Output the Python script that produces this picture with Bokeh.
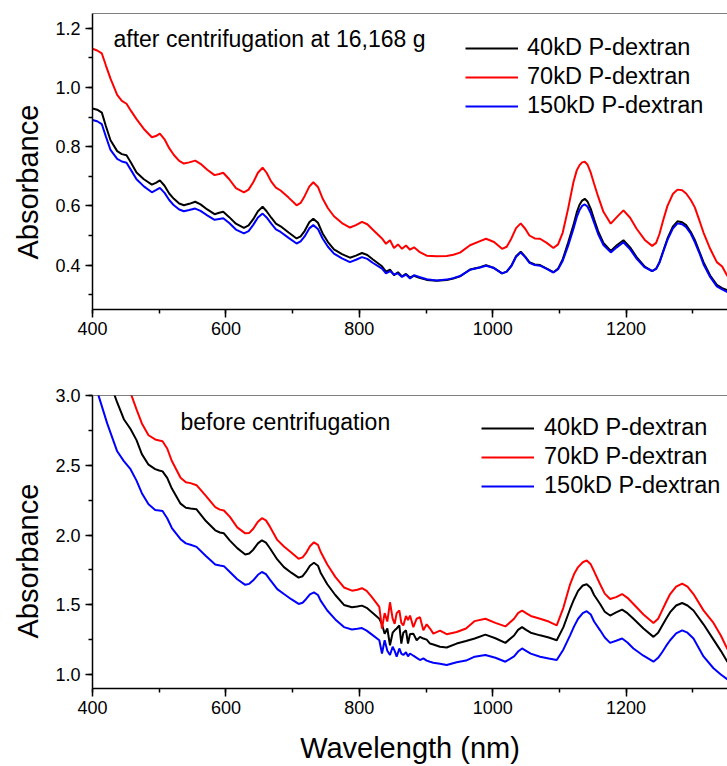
from bokeh.plotting import figure
from bokeh.layouts import column
from bokeh.models import (Range1d, Label, Span, Legend, LegendItem, Title,
                          SingleIntervalTicker, PrintfTickFormatter)
from bokeh.embed import file_html
from bokeh.resources import INLINE

FONT = "Liberation Sans"

# ---------------- data: after centrifugation ----------------
wl_top = [400, 407, 414, 420, 427, 437, 444, 451, 458, 466,
          477, 489, 495, 501, 508, 515, 522, 530, 537, 545,
          554, 562, 572, 583, 590, 596, 605, 615, 627, 634,
          641, 648, 655, 661, 668, 675, 682, 694, 706, 712,
          718, 725, 731, 738, 745, 753, 762, 774, 786, 795,
          804, 812, 820, 834, 840, 846, 852, 858, 864, 870,
          876, 882, 890, 901, 916, 931, 941, 951, 966, 981,
          990, 1002, 1014, 1021, 1028, 1035, 1042, 1049, 1055, 1063,
          1071, 1081, 1091, 1098, 1105, 1113, 1121, 1126, 1130, 1134,
          1138, 1142, 1147, 1152, 1158, 1166, 1177, 1186, 1196, 1206,
          1216, 1228, 1239, 1245, 1250, 1256, 1262, 1270, 1277, 1284,
          1290, 1297, 1303, 1310, 1316, 1326, 1336, 1344, 1352]

top_40kd = [0.929, 0.925, 0.915, 0.870, 0.822, 0.785, 0.775, 0.771, 0.745, 0.713,
            0.690, 0.672, 0.678, 0.686, 0.668, 0.642, 0.624, 0.608, 0.602, 0.607,
            0.614, 0.605, 0.588, 0.572, 0.577, 0.580, 0.562, 0.540, 0.526, 0.534,
            0.555, 0.582, 0.597, 0.582, 0.560, 0.540, 0.531, 0.510, 0.490, 0.497,
            0.515, 0.545, 0.557, 0.543, 0.507, 0.478, 0.453, 0.437, 0.425, 0.432,
            0.441, 0.434, 0.420, 0.396, 0.378, 0.385, 0.366, 0.376, 0.362, 0.370,
            0.358, 0.364, 0.357, 0.350, 0.347, 0.350, 0.355, 0.362, 0.385, 0.393,
            0.400, 0.390, 0.372, 0.378, 0.398, 0.430, 0.445, 0.428, 0.410, 0.402,
            0.400, 0.388, 0.376, 0.388, 0.420, 0.475, 0.535, 0.578, 0.603, 0.618,
            0.624, 0.615, 0.590, 0.555, 0.515, 0.475, 0.448, 0.467, 0.484, 0.460,
            0.426, 0.395, 0.380, 0.388, 0.410, 0.450, 0.490, 0.530, 0.548, 0.545,
            0.535, 0.512, 0.485, 0.445, 0.410, 0.365, 0.333, 0.322, 0.315]

top_70kd = [1.131, 1.125, 1.115, 1.075, 1.030, 0.975, 0.955, 0.945, 0.920, 0.893,
            0.860, 0.832, 0.836, 0.844, 0.825, 0.795, 0.772, 0.752, 0.743, 0.747,
            0.753, 0.742, 0.722, 0.704, 0.708, 0.712, 0.690, 0.660, 0.646, 0.655,
            0.680, 0.712, 0.729, 0.712, 0.682, 0.662, 0.652, 0.628, 0.602, 0.610,
            0.633, 0.665, 0.680, 0.664, 0.625, 0.592, 0.565, 0.542, 0.527, 0.535,
            0.546, 0.538, 0.520, 0.490, 0.472, 0.484, 0.458, 0.470, 0.455, 0.466,
            0.452, 0.460, 0.445, 0.432, 0.430, 0.431, 0.435, 0.442, 0.467, 0.481,
            0.489, 0.478, 0.455, 0.462, 0.490, 0.525, 0.541, 0.522, 0.500, 0.490,
            0.489, 0.475, 0.458, 0.470, 0.510, 0.590, 0.680, 0.720, 0.737, 0.747,
            0.749, 0.740, 0.712, 0.675, 0.632, 0.580, 0.540, 0.562, 0.585, 0.560,
            0.522, 0.485, 0.465, 0.475, 0.505, 0.555, 0.600, 0.640, 0.655, 0.653,
            0.642, 0.620, 0.595, 0.550, 0.510, 0.455, 0.410, 0.395, 0.362]

top_150kd = [0.890, 0.886, 0.876, 0.835, 0.789, 0.759, 0.750, 0.746, 0.720, 0.690,
             0.666, 0.646, 0.653, 0.661, 0.644, 0.620, 0.602, 0.588, 0.582, 0.586,
             0.591, 0.583, 0.568, 0.553, 0.556, 0.558, 0.542, 0.520, 0.507, 0.515,
             0.536, 0.561, 0.574, 0.561, 0.540, 0.521, 0.512, 0.492, 0.473, 0.480,
             0.497, 0.524, 0.535, 0.522, 0.490, 0.462, 0.439, 0.423, 0.410, 0.418,
             0.427, 0.421, 0.408, 0.388, 0.372, 0.380, 0.368, 0.372, 0.360, 0.368,
             0.355, 0.366, 0.360, 0.352, 0.348, 0.351, 0.356, 0.363, 0.384, 0.392,
             0.398, 0.390, 0.372, 0.378, 0.397, 0.428, 0.443, 0.426, 0.408, 0.400,
             0.398, 0.387, 0.375, 0.386, 0.415, 0.465, 0.522, 0.562, 0.585, 0.600,
             0.605, 0.598, 0.575, 0.543, 0.505, 0.468, 0.443, 0.460, 0.477, 0.453,
             0.421, 0.392, 0.380, 0.387, 0.408, 0.447, 0.485, 0.523, 0.541, 0.538,
             0.528, 0.506, 0.478, 0.440, 0.403, 0.360, 0.328, 0.318, 0.309]

# ---------------- data: before centrifugation ----------------
wl_bot = [400, 410, 422, 437, 447, 457, 466, 474, 484, 494,
          500, 505, 512, 519, 532, 540, 547, 556, 570, 584,
          591, 597, 606, 617, 629, 635, 641, 648, 654, 660,
          666, 677, 687, 698, 709, 715, 720, 726, 732, 738,
          742, 752, 764, 777, 789, 797, 804, 811, 818, 830,
          834, 838, 842, 846, 850, 853, 856, 860, 863, 866,
          870, 873, 876, 881, 886, 891, 896, 901, 906, 911,
          921, 931, 946, 960, 973, 989, 1004, 1019, 1032, 1038,
          1044, 1050, 1057, 1071, 1084, 1096, 1106, 1116, 1122, 1128,
          1135, 1141, 1147, 1152, 1161, 1168, 1176, 1185, 1194, 1202,
          1211, 1226, 1241, 1248, 1254, 1260, 1266, 1275, 1284, 1292,
          1301, 1316, 1331, 1342, 1352]

bot_40kd = [3.46, 3.32, 3.15, 2.95, 2.83, 2.76, 2.68, 2.58, 2.504, 2.472,
            2.462, 2.456, 2.410, 2.333, 2.225, 2.195, 2.190, 2.184, 2.100, 2.034,
            2.018, 2.012, 1.960, 1.906, 1.861, 1.868, 1.895, 1.940, 1.962, 1.945,
            1.905, 1.825, 1.770, 1.730, 1.695, 1.705, 1.735, 1.780, 1.801, 1.780,
            1.730, 1.647, 1.570, 1.499, 1.482, 1.488, 1.494, 1.478, 1.450, 1.400,
            1.360, 1.293, 1.330, 1.210, 1.300, 1.317, 1.330, 1.352, 1.222, 1.300,
            1.317, 1.222, 1.290, 1.293, 1.246, 1.270, 1.258, 1.250, 1.222, 1.215,
            1.199, 1.194, 1.222, 1.240, 1.258, 1.286, 1.260, 1.227, 1.280, 1.320,
            1.340, 1.320, 1.300, 1.281, 1.265, 1.246, 1.340, 1.470, 1.540, 1.600,
            1.638, 1.647, 1.620, 1.570, 1.506, 1.450, 1.423, 1.445, 1.465, 1.440,
            1.400, 1.330, 1.270, 1.300, 1.350, 1.400, 1.447, 1.495, 1.513, 1.495,
            1.459, 1.360, 1.250, 1.170, 1.090]

bot_70kd = [3.70, 3.55, 3.38, 3.18, 3.08, 3.02, 2.90, 2.80, 2.715, 2.685,
            2.678, 2.672, 2.620, 2.530, 2.410, 2.378, 2.372, 2.357, 2.280, 2.200,
            2.182, 2.176, 2.130, 2.055, 2.012, 2.015, 2.045, 2.095, 2.121, 2.105,
            2.060, 1.965, 1.918, 1.875, 1.830, 1.840, 1.870, 1.920, 1.948, 1.930,
            1.880, 1.789, 1.700, 1.624, 1.601, 1.608, 1.619, 1.600, 1.560, 1.485,
            1.330, 1.440, 1.380, 1.518, 1.400, 1.364, 1.440, 1.459, 1.370, 1.352,
            1.420, 1.390, 1.423, 1.340, 1.400, 1.411, 1.317, 1.360, 1.330, 1.293,
            1.315, 1.289, 1.305, 1.330, 1.383, 1.400, 1.370, 1.345, 1.400, 1.440,
            1.459, 1.440, 1.420, 1.400, 1.380, 1.352, 1.480, 1.647, 1.720, 1.770,
            1.805, 1.818, 1.790, 1.740, 1.647, 1.580, 1.541, 1.555, 1.577, 1.550,
            1.506, 1.430, 1.369, 1.400, 1.460, 1.520, 1.577, 1.630, 1.652, 1.630,
            1.577, 1.460, 1.370, 1.280, 1.180]

bot_150kd = [3.14, 2.985, 2.80, 2.600, 2.530, 2.472, 2.39, 2.300, 2.22, 2.180,
             2.176, 2.172, 2.120, 2.050, 1.970, 1.940, 1.930, 1.915, 1.850, 1.789,
             1.781, 1.777, 1.735, 1.683, 1.643, 1.650, 1.675, 1.715, 1.735, 1.720,
             1.680, 1.612, 1.577, 1.540, 1.506, 1.515, 1.540, 1.575, 1.589, 1.570,
             1.530, 1.459, 1.395, 1.340, 1.323, 1.328, 1.333, 1.315, 1.290, 1.246,
             1.151, 1.246, 1.170, 1.140, 1.199, 1.170, 1.128, 1.187, 1.150, 1.140,
             1.160, 1.130, 1.151, 1.135, 1.120, 1.104, 1.116, 1.100, 1.092, 1.085,
             1.078, 1.068, 1.088, 1.100, 1.128, 1.140, 1.120, 1.092, 1.130, 1.165,
             1.187, 1.170, 1.150, 1.128, 1.115, 1.104, 1.180, 1.281, 1.345, 1.400,
             1.440, 1.454, 1.430, 1.380, 1.317, 1.265, 1.227, 1.242, 1.258, 1.230,
             1.187, 1.135, 1.092, 1.120, 1.160, 1.205, 1.246, 1.295, 1.317, 1.300,
             1.258, 1.130, 1.045, 1.000, 0.965]

series_names = ["40kD P-dextran", "70kD P-dextran", "150kD P-dextran"]
series_colors = ["#000000", "#ff0000", "#0000ff"]


def make_panel(wl, ys, y0, y1, yint, height, btop, bbot, note, note_x, note_y,
               leg_x, leg_y, leg_standoff, xlabel=None):
    p = figure(width=727, height=height, x_range=Range1d(400, 1352),
               y_range=Range1d(y0, y1), output_backend="svg",
               toolbar_location=None, min_border_left=92, min_border_right=0,
               min_border_top=btop, min_border_bottom=bbot)
    p.grid.visible = False
    p.outline_line_color = None
    p.background_fill_color = "white"
    p.border_fill_color = "white"

    xa = p.xaxis[0]
    xa.ticker = SingleIntervalTicker(interval=200, num_minor_ticks=2)
    ya = p.yaxis[0]
    ya.ticker = SingleIntervalTicker(interval=yint, num_minor_ticks=2)
    ya.formatter = PrintfTickFormatter(format="%.1f")
    for ax in (xa, ya):
        ax.axis_line_color = "black"
        ax.axis_line_width = 1.5
        ax.major_tick_line_color = "black"
        ax.minor_tick_line_color = "black"
        ax.major_tick_line_width = 1.5
        ax.minor_tick_line_width = 1.5
        ax.major_tick_in = 0
        ax.minor_tick_in = 0
        ax.minor_tick_out = 4
        ax.major_label_text_font = FONT
        ax.major_label_text_font_size = "18px"
        ax.major_label_text_color = "black"
    xa.major_tick_out = 8
    ya.major_tick_out = 7
    xa.major_label_standoff = 4
    ya.major_label_standoff = 5
    if xlabel:
        xa.axis_label = xlabel
        xa.axis_label_text_font = FONT
        xa.axis_label_text_font_size = "29px"
        xa.axis_label_text_font_style = "normal"
        xa.axis_label_text_color = "black"
        xa.axis_label_standoff = 15

    p.add_layout(Title(text="Absorbance", align="left", offset=50,
                       text_font=FONT, text_font_size="29px",
                       text_font_style="normal", text_color="black",
                       standoff=17), "left")

    p.add_layout(Span(location=y1, dimension="width", line_color="black",
                      line_width=1))

    items = []
    for name, color, y in zip(series_names, series_colors, ys):
        r = p.line(wl, y, line_color=color, line_width=2)
        items.append(LegendItem(label=name, renderers=[r]))

    leg = Legend(items=items, location=(leg_x, leg_y),
                 label_text_font=FONT, label_text_font_size="23.5px",
                 label_text_color="black", glyph_width=53, glyph_height=20,
                 label_standoff=leg_standoff, spacing=2, padding=0, margin=0,
                 border_line_color=None, background_fill_alpha=0)
    p.add_layout(leg)

    p.add_layout(Label(x=note_x, y=note_y, x_units="screen", y_units="screen",
                       text=note, text_font=FONT, text_font_size="23px",
                       text_color="black", text_baseline="alphabetic"))
    return p


p1 = make_panel(wl_top, [top_40kd, top_70kd, top_150kd], 0.25, 1.25, 0.2,
                385, 13, 76, "after centrifugation at 16,168 g", 21, 271,
                373, 190, 9)
p2 = make_panel(wl_bot, [bot_40kd, bot_70kd, bot_150kd], 0.9, 3.0, 0.5,
                381, 10, 75, "before centrifugation", 88, 267,
                389, 189, 10, xlabel="Wavelength (nm)")

layout = column(p1, p2, spacing=0)
open("out.html", "w").write(file_html(layout, INLINE))
